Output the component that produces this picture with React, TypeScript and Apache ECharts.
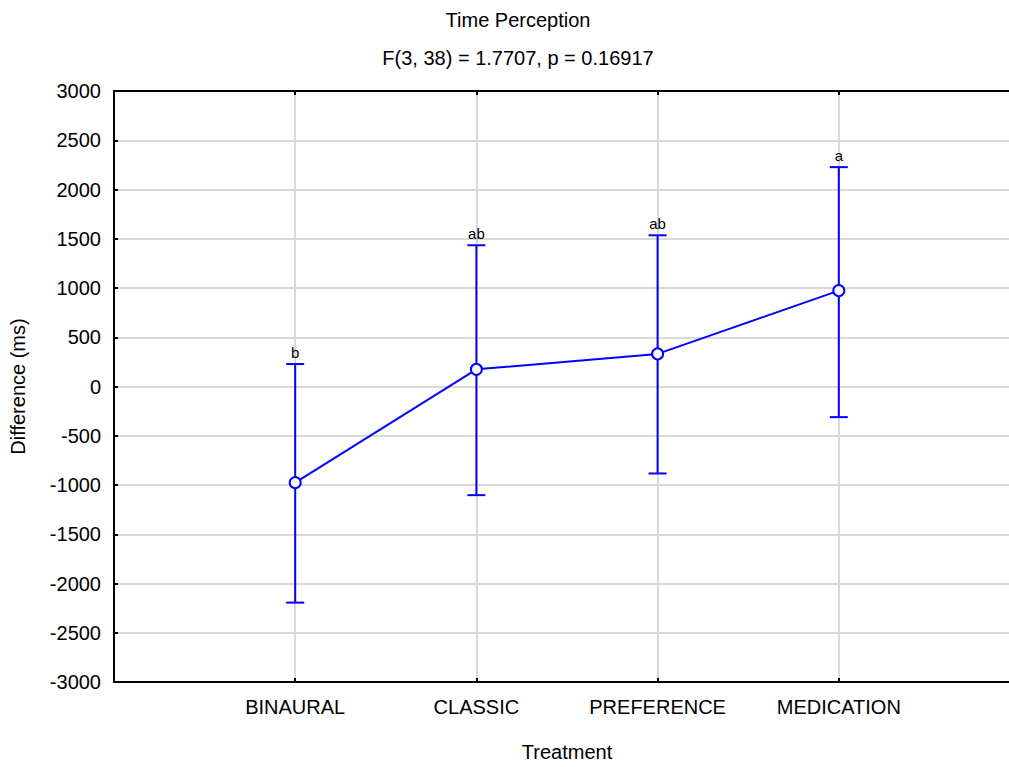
import React, { useEffect, useRef } from "react";
import * as echarts from "echarts";

const categories = ["BINAURAL", "CLASSIC", "PREFERENCE", "MEDICATION"];
const means = [-976, 174, 331, 973];
const lowerBounds = [-2194, -1103, -883, -311];
const upperBounds = [228, 1434, 1535, 2227];
const groupLetters = ["b", "ab", "ab", "a"];
const yTicks = { min: -3000, max: 3000, interval: 500 };
const titleLines = ["Time Perception", "F(3, 38) = 1.7707, p = 0.16917"];

const FONT = "'Liberation Sans', Arial, sans-serif";
const BLUE = "#0000ff";
const X_MAX = 5;

export default function App() {
  const ref = useRef<HTMLDivElement>(null);
  useEffect(() => {
    if (!ref.current) return;
    const chart = echarts.init(ref.current, null, { renderer: "svg" });
    const lineData = means.map((m, i) => [i + 1, m]);
    const errData = means.map((m, i) => [i + 1, lowerBounds[i], upperBounds[i], i]);
    chart.setOption({
      animation: false,
      backgroundColor: "#ffffff",
      textStyle: { fontFamily: FONT },
      graphic: [
        {
          type: "text",
          x: 518,
          y: 20,
          style: { text: titleLines[0], fontFamily: FONT, fontSize: 20, fill: "#000", textAlign: "center", textVerticalAlign: "middle" },
        },
        {
          type: "text",
          x: 518,
          y: 58,
          style: { text: titleLines[1], fontFamily: FONT, fontSize: 20, fill: "#000", textAlign: "center", textVerticalAlign: "middle" },
        },
      ],
      grid: {
        left: 114,
        right: 0,
        top: 91,
        bottom: 78,
        show: false,
      },
      xAxis: [
        {
          type: "value",
          min: 0,
          max: X_MAX,
          interval: 1,
          name: "Treatment",
          nameLocation: "middle",
          nameGap: 60,
          nameTextStyle: { fontFamily: FONT, fontSize: 20, color: "#000" },
          axisLine: { show: true, onZero: false, lineStyle: { color: "#000", width: 2 } },
          axisTick: { show: true, inside: true, length: 4, lineStyle: { color: "#000", width: 2 } },
          axisLabel: {
            fontFamily: FONT,
            fontSize: 20,
            color: "#000",
            margin: 15,
            showMinLabel: false,
            showMaxLabel: false,
            formatter: (v: number) => categories[Math.round(v) - 1] ?? "",
          },
          splitLine: { show: true, lineStyle: { color: "#d9d9d9", width: 2 } },
        },
        {
          type: "value",
          position: "top",
          min: 0,
          max: X_MAX,
          interval: 1,
          axisLine: { show: true, onZero: false, lineStyle: { color: "#000", width: 2 } },
          axisTick: { show: true, inside: true, length: 4, lineStyle: { color: "#000", width: 2 } },
          axisLabel: { show: false },
          splitLine: { show: false },
        },
      ],
      yAxis: {
        type: "value",
        min: yTicks.min,
        max: yTicks.max,
        interval: yTicks.interval,
        name: "Difference (ms)",
        nameLocation: "middle",
        nameRotate: 90,
        nameGap: 86,
        nameTextStyle: { fontFamily: FONT, fontSize: 20, color: "#000" },
        axisLine: { show: true, onZero: false, lineStyle: { color: "#000", width: 2 } },
        axisTick: { show: true, inside: true, length: 4, lineStyle: { color: "#000", width: 2 } },
        axisLabel: { fontFamily: FONT, fontSize: 20, color: "#000", margin: 13, formatter: (v: number) => String(v) },
        splitLine: { show: true, lineStyle: { color: "#d9d9d9", width: 2 } },
      },
      series: [
        {
          type: "custom",
          data: errData,
          z: 3,
          renderItem: (params: any, api: any) => {
            const x = api.value(0);
            const lo = api.coord([x, api.value(1)]);
            const hi = api.coord([x, api.value(2)]);
            const idx = api.value(3);
            const hw = 9;
            const st = { stroke: BLUE, lineWidth: 2 };
            return {
              type: "group",
              children: [
                { type: "line", shape: { x1: lo[0], y1: lo[1], x2: hi[0], y2: hi[1] }, style: st },
                { type: "line", shape: { x1: hi[0] - hw, y1: hi[1], x2: hi[0] + hw, y2: hi[1] }, style: st },
                { type: "line", shape: { x1: lo[0] - hw, y1: lo[1], x2: lo[0] + hw, y2: lo[1] }, style: st },
                {
                  type: "text",
                  x: hi[0],
                  y: hi[1] - 12,
                  style: {
                    text: groupLetters[idx],
                    fontFamily: FONT,
                    fontSize: 15,
                    fill: "#000",
                    textAlign: "center",
                    textVerticalAlign: "middle",
                  },
                },
              ],
            };
          },
        },
        {
          type: "line",
          data: lineData,
          z: 4,
          symbol: "circle",
          symbolSize: 11,
          itemStyle: { color: "#ffffff", borderColor: BLUE, borderWidth: 2 },
          lineStyle: { color: BLUE, width: 2 },
        },
      ],
    });
    return () => chart.dispose();
  }, []);
  return (
    <div style={{ position: "fixed", left: 0, top: 0, width: 1009, height: 767, overflow: "hidden", background: "#fff" }}>
      <div ref={ref} style={{ width: 1020, height: 767 }} />
    </div>
  );
}
